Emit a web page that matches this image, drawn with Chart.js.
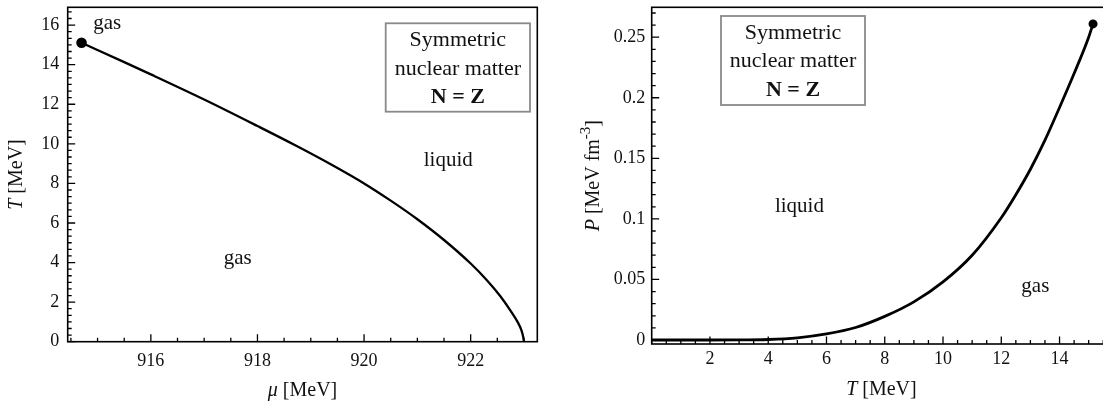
<!DOCTYPE html>
<html>
<head>
<meta charset="utf-8">
<script src="https://cdn.jsdelivr.net/npm/chart.js@4.4.0/dist/chart.umd.min.js"></script>
<style>
  html, body { margin: 0; padding: 0; background: #fff; width: 1103px; height: 403px; overflow: hidden; }
  .panel { position: absolute; top: 0; height: 403px; }
</style>
</head>
<body>
<div class="panel" style="left:0;width:550px"><canvas id="chartMu" width="550" height="403"></canvas></div>
<div class="panel" style="left:540px;width:580px"><canvas id="chartP" width="580" height="403"></canvas></div>
<script>
// left panel: coexistence line T(mu)
const muValues = [914.70, 915.5, 916.0, 917.0, 918.0, 918.7, 919.4, 920.0, 920.5, 921.0, 921.5, 922.0, 922.3, 922.55, 922.75, 922.88, 922.95, 922.985, 923.0];
const tcValues = [15.11, 14.13, 13.51, 12.24, 10.90, 9.94, 8.93, 8.0, 7.13, 6.19, 5.14, 3.95, 3.12, 2.32, 1.56, 1.0, 0.6, 0.25, 0.0];
// right panel: coexistence pressure P(T)
const tValues = [0, 1, 2, 3, 4, 5, 6, 7, 8, 9, 10, 11, 12, 12.5, 13, 13.5, 14, 14.5, 15, 15.15];
const pValues = [0, 0, 0, 0.00003, 0.0004, 0.0018, 0.005, 0.0103, 0.0195, 0.0315, 0.048, 0.070, 0.101, 0.120, 0.141, 0.165, 0.192, 0.220, 0.250, 0.261];
// critical point
const criticalMu = 914.70;
const criticalT = 15.11;
const criticalTp = 15.15;
const criticalP = 0.261;

// tick labels
const muTicks = [916, 918, 920, 922];
const tTicksLeft = [0, 2, 4, 6, 8, 10, 12, 14, 16];
const tTicksRight = [2, 4, 6, 8, 10, 12, 14];
const pTicks = [0, 0.05, 0.1, 0.15, 0.2, 0.25];
const pTickLabels = ['0', '0.05', '0.1', '0.15', '0.2', '0.25'];

const boxLines = ['Symmetric', 'nuclear matter', 'N = Z'];

const SERIF = '"Liberation Serif", "Times New Roman", serif';
const tickFont = { family: SERIF, size: 18 };
const ink = '#111';

function drawRuns(ctx, runs, cx, cy, rot) {
  ctx.save();
  ctx.translate(cx, cy);
  if (rot) ctx.rotate(rot);
  let w = 0;
  runs.forEach(r => { ctx.font = r.f; r.w = ctx.measureText(r.t).width; w += r.w; });
  let x = -w / 2;
  ctx.fillStyle = ink;
  ctx.textBaseline = 'middle';
  ctx.textAlign = 'left';
  runs.forEach(r => { ctx.font = r.f; ctx.fillText(r.t, x, r.dy || 0); x += r.w; });
  ctx.restore();
}

function drawText(ctx, text, font, x, y) {
  ctx.save();
  ctx.font = font;
  ctx.fillStyle = ink;
  ctx.textAlign = 'center';
  ctx.textBaseline = 'middle';
  ctx.fillText(text, x, y);
  ctx.restore();
}

const frameTicks = {
  id: 'frameTicks',
  afterDraw(chart, args, o) {
    const { ctx, chartArea: a, scales: { x, y } } = chart;
    ctx.save();
    ctx.strokeStyle = '#000';
    ctx.lineWidth = 1.3;
    ctx.beginPath();
    // minor ticks
    for (let v = Math.ceil(x.min / o.xMinor) * o.xMinor; v <= x.max; v += o.xMinor) {
      const px = x.getPixelForValue(v);
      ctx.moveTo(px, a.bottom); ctx.lineTo(px, a.bottom - 4);
    }
    for (let v = Math.ceil(y.min / o.yMinor - 1e-6) * o.yMinor; v <= y.max; v += o.yMinor) {
      const py = y.getPixelForValue(v);
      ctx.moveTo(a.left, py); ctx.lineTo(a.left + 4, py);
    }
    // major ticks
    o.xMajor.forEach(v => { const px = x.getPixelForValue(v); ctx.moveTo(px, a.bottom); ctx.lineTo(px, a.bottom - 7.5); });
    o.yMajor.forEach(v => { const py = y.getPixelForValue(v); ctx.moveTo(a.left, py); ctx.lineTo(a.left + 7.5, py); });
    ctx.stroke();
    // frame
    ctx.lineWidth = 1.6;
    ctx.strokeRect(a.left, a.top, a.right - a.left, a.bottom - a.top);
    ctx.restore();

    // axis titles
    o.xTitle && drawRuns(ctx, o.xTitle, (a.left + a.right) / 2 + (o.xTitleDx || 0), o.xTitleY, 0);
    o.yTitle && drawRuns(ctx, o.yTitle, o.yTitleX, (a.top + a.bottom) / 2, -Math.PI / 2);

    // region labels
    o.labels.forEach(l => drawText(ctx, l.t, '21px ' + SERIF, x.getPixelForValue(l.x), y.getPixelForValue(l.y)));

    // inset box
    const b = o.box;
    ctx.save();
    ctx.strokeStyle = '#8a8a8a';
    ctx.lineWidth = 1.8;
    ctx.fillStyle = '#fff';
    ctx.fillRect(a.left + b.x, a.top + b.y, b.w, b.h);
    ctx.strokeRect(a.left + b.x, a.top + b.y, b.w, b.h);
    ctx.restore();
    const cx = a.left + b.x + b.w / 2;
    drawText(ctx, boxLines[0], '22px ' + SERIF, cx, a.top + b.y + 17);
    drawText(ctx, boxLines[1], '22px ' + SERIF, cx, a.top + b.y + 45.5);
    drawText(ctx, boxLines[2], 'bold 22px ' + SERIF, cx, a.top + b.y + 74);
  }
};

function axisBase(ticks, pad, labels) {
  return {
    type: 'linear',
    grid: { display: false, drawTicks: false },
    border: { display: false },
    afterBuildTicks: s => { s.ticks = ticks.map(v => ({ value: v })); },
    ticks: {
      padding: pad, font: tickFont, color: ink, autoSkip: false, maxRotation: 0,
      callback: (v, i) => labels ? labels[i] : String(v)
    }
  };
}

// pin the scale box size and drop label overhang padding so the plot area lands where the reference has it
function fixSize(key, val) {
  return s => {
    s[key] = val;
    s.paddingTop = 0; s.paddingBottom = 0; s.paddingLeft = 0; s.paddingRight = 0;
  };
}

const it = 'italic 20px ' + SERIF;
const rm = '20px ' + SERIF;

new Chart(document.getElementById('chartMu'), {
  type: 'scatter',
  data: {
    datasets: [
      { data: muValues.map((m, i) => ({ x: m, y: tcValues[i] })), showLine: true, borderColor: '#000', borderWidth: 2.3,
        pointRadius: 0, cubicInterpolationMode: 'monotone' },
      { data: [{ x: criticalMu, y: criticalT }], pointRadius: 5.3, backgroundColor: '#000', borderWidth: 0, clip: false }
    ]
  },
  options: {
    responsive: false, animation: false, events: [],
    layout: { padding: { top: 7.3, right: 12.7, bottom: 0, left: 0 } },
    plugins: {
      legend: { display: false }, tooltip: { enabled: false },
      frameTicks: {
        xMinor: 0.5, yMinor: 2 / 6, xMajor: muTicks, yMajor: tTicksLeft,
        xTitle: [{ t: 'μ', f: it }, { t: ' [MeV]', f: rm }], xTitleY: 391,
        yTitle: [{ t: 'T', f: it }, { t: ' [MeV]', f: rm }], yTitleX: 17,
        labels: [{ t: 'gas', x: 915.18, y: 16.1 }, { t: 'gas', x: 917.63, y: 4.19 }, { t: 'liquid', x: 921.58, y: 9.16 }],
        box: { x: 318, y: 16, w: 144.3, h: 88.4 }
      }
    },
    scales: {
      x: Object.assign(axisBase(muTicks, 9), { min: 914.44, max: 923.25, afterFit: fixSize('height', 61.3) }),
      y: Object.assign(axisBase(tTicksLeft, 8.5), { min: 0, max: 16.9, afterFit: fixSize('width', 67.7) })
    }
  },
  plugins: [frameTicks]
});

new Chart(document.getElementById('chartP'), {
  type: 'scatter',
  data: {
    datasets: [
      { data: tValues.map((t, i) => ({ x: t, y: pValues[i] })), showLine: true, borderColor: '#000', borderWidth: 2.8,
        pointRadius: 0, cubicInterpolationMode: 'monotone' },
      { data: [{ x: criticalTp, y: criticalP }], pointRadius: 4.5, backgroundColor: '#000', borderWidth: 0, clip: false }
    ]
  },
  options: {
    responsive: false, animation: false, events: [],
    layout: { padding: { top: 7.3, right: 8.9, bottom: 0, left: 0 } },
    plugins: {
      legend: { display: false }, tooltip: { enabled: false },
      frameTicks: {
        xMinor: 0.5, yMinor: 0.01, xMajor: tTicksRight, yMajor: pTicks,
        xTitle: [{ t: 'T', f: it }, { t: ' [MeV]', f: rm }], xTitleY: 390,
        yTitle: [{ t: 'P', f: it }, { t: ' [MeV fm', f: rm }, { t: '-3', f: '15px ' + SERIF, dy: -8 }, { t: ']', f: rm }], yTitleX: 54,
        labels: [{ t: 'liquid', x: 5.07, y: 0.110 }, { t: 'gas', x: 13.17, y: 0.0446 }],
        box: { x: 69.3, y: 8.7, w: 144, h: 89 }
      }
    },
    scales: {
      x: Object.assign(axisBase(tTicksRight, 4), { min: 0, max: 15.77, afterFit: fixSize('height', 59) }),
      y: Object.assign(axisBase(pTicks, 6.5, pTickLabels), { min: -0.0033, max: 0.2747, afterFit: fixSize('width', 111.7) })
    }
  },
  plugins: [frameTicks]
});
</script>
</body>
</html>
